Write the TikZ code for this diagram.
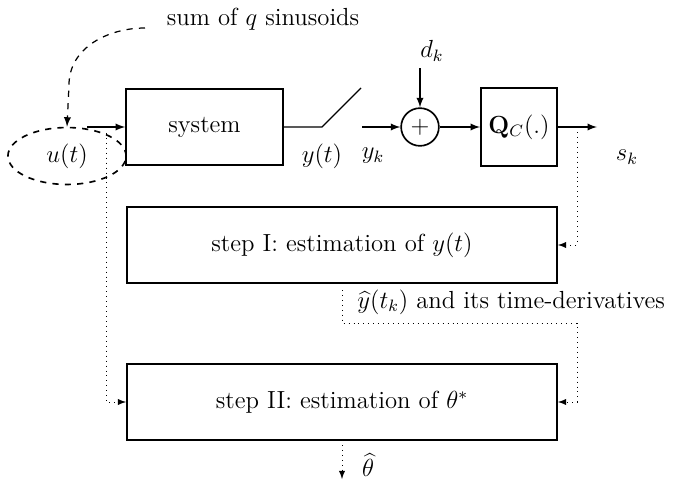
\documentclass[12pt,tikz,border=0pt]{standalone}
\usetikzlibrary{arrows,shapes.geometric}
\tikzset{
  blk/.style={draw,thick,rectangle,inner sep=0pt},
  addr/.style={draw,thick,circle,minimum size=18.3pt,inner sep=0pt},
  sig/.style={semithick,-latex},
  fb/.style={thin,dotted,-latex}
}
\begin{document}
\begin{tikzpicture}[x=0.485pt,y=-0.485pt]
\useasboundingbox (0,0) rectangle (673,483);
% forward path
\node[blk,minimum width=76.2pt,minimum height=36.8pt] (sys) at (204.5,127) {system};
\node[draw,thick,dashed,ellipse,minimum width=57.3pt,minimum height=27.6pt,inner sep=0pt] (u) at (67,156) {$u(t)$};
\node (sum) at (263,19) {sum of $q$ sinusoids};
\coordinate (sumst) at (145,28);
\coordinate (uin) at (87,127);
\draw[semithick,dashed,-latex] (sumst) to[out=180,in=90] (69,85) -- (u.north);
\draw[sig] (uin) -- (sys.west);
\coordinate (sw) at (322,127);
\coordinate (swtip) at (361,88);
\draw[semithick] (sys.east) -- (sw) -- (swtip);
\node (yt) at (322,156) {$y(t)$};
\node (yk) at (373,156) {$y_k$};
\coordinate (ykin) at (362,127);
\node[addr] (add) at (420,127) {$+$};
\draw[sig] (ykin) -- (add.west);
\node (dk) at (432,51) {$d_k$};
\coordinate (dkin) at (420,68);
\draw[sig] (dkin) -- (add.north);
\node[blk,minimum width=37pt,minimum height=37.9pt] (Q) at (519,127) {$\mathbf{Q}_C(.)$};
\draw[sig] (add.east) -- (Q.west);
\coordinate (skout) at (597,127);
\draw[sig] (Q.east) -- (skout);
\node (sk) at (627,157) {$s_k$};
% estimation
\node[blk,minimum width=208.7pt,minimum height=36.8pt] (st1) at (342,245) {step I: estimation of $y(t)$};
\node[blk,minimum width=208.7pt,minimum height=36.8pt] (st2) at (342,402) {step II: estimation of $\theta^*$};
\draw[fb] (577,132) -- (577,245) -- (st1.east);
\node[anchor=west,inner sep=0pt] (yhat) at (357,302) {$\widehat{y}(t_k)$ and its time-derivatives};
\draw[fb] (342,290) -- (342,323) -- (577,323) -- (577,402) -- (st2.east);
\draw[fb] (106,133) -- (106,402) -- (st2.west);
\coordinate (thout) at (342,479);
\draw[fb] (342,445) -- (thout);
\node (th) at (368,465) {$\widehat{\theta}$};
\end{tikzpicture}
\end{document}
